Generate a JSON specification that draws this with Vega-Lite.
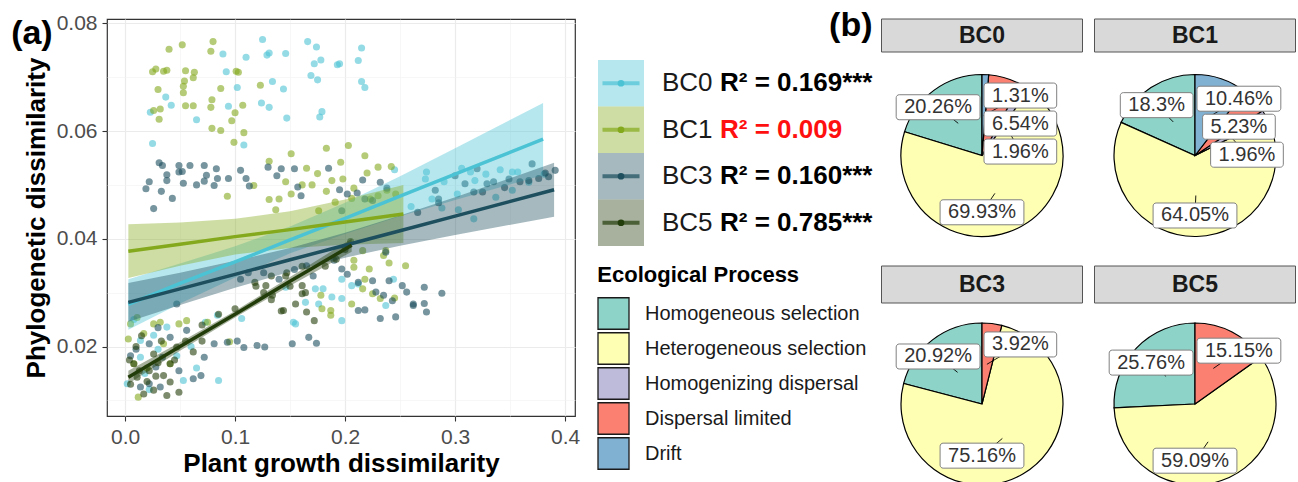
{
  "$schema": "https://vega.github.io/schema/vega-lite/v6.json",
  "padding": {"left": 10, "top": 9, "right": 0, "bottom": 0},
  "config": {
    "font": "Liberation Sans",
    "view": {"stroke": null},
    "axis": {
      "labelFont": "Liberation Sans", "labelFontSize": 21, "labelColor": "#4d4d4d",
      "titleFont": "Liberation Sans", "titleFontSize": 26, "titleFontWeight": "bold", "titleColor": "#000000",
      "domain": false, "tickColor": "#333333", "tickSize": 5, "tickWidth": 1.1,
      "labelFlush": false, "labelOverlap": false, "grid": true
    },
    "title": {"font": "Liberation Sans", "color": "#000000"},
    "text": {"font": "Liberation Sans"}
  },
  "datasets": {
    "r2": [
      {"g": "BC0", "r2": 0.169, "sig": "***"},
      {"g": "BC1", "r2": 0.009, "sig": ""},
      {"g": "BC3", "r2": 0.160, "sig": "***"},
      {"g": "BC5", "r2": 0.785, "sig": "***"}
    ],
    "pie": [
      {"g": "BC0", "process": "Homogeneous selection", "value": 20.26},
      {"g": "BC0", "process": "Heterogeneous selection", "value": 69.93},
      {"g": "BC0", "process": "Homogenizing dispersal", "value": 1.96},
      {"g": "BC0", "process": "Dispersal limited", "value": 6.54},
      {"g": "BC0", "process": "Drift", "value": 1.31},
      {"g": "BC1", "process": "Homogeneous selection", "value": 18.3},
      {"g": "BC1", "process": "Heterogeneous selection", "value": 64.05},
      {"g": "BC1", "process": "Homogenizing dispersal", "value": 1.96},
      {"g": "BC1", "process": "Dispersal limited", "value": 5.23},
      {"g": "BC1", "process": "Drift", "value": 10.46},
      {"g": "BC3", "process": "Homogeneous selection", "value": 20.92},
      {"g": "BC3", "process": "Heterogeneous selection", "value": 75.16},
      {"g": "BC3", "process": "Dispersal limited", "value": 3.92},
      {"g": "BC5", "process": "Homogeneous selection", "value": 25.76},
      {"g": "BC5", "process": "Heterogeneous selection", "value": 59.09},
      {"g": "BC5", "process": "Dispersal limited", "value": 15.15}
    ],
    "fit": [
      {"g": "BC0", "x": 0.003, "fit": 0.0278, "lo": 0.0231, "hi": 0.0325},
      {"g": "BC0", "x": 0.05, "fit": 0.0317, "lo": 0.0280, "hi": 0.0354},
      {"g": "BC0", "x": 0.10, "fit": 0.0357, "lo": 0.0328, "hi": 0.0386},
      {"g": "BC0", "x": 0.15, "fit": 0.0398, "lo": 0.0373, "hi": 0.0423},
      {"g": "BC0", "x": 0.20, "fit": 0.0438, "lo": 0.0409, "hi": 0.0467},
      {"g": "BC0", "x": 0.25, "fit": 0.0479, "lo": 0.0442, "hi": 0.0516},
      {"g": "BC0", "x": 0.30, "fit": 0.0520, "lo": 0.0472, "hi": 0.0568},
      {"g": "BC0", "x": 0.38, "fit": 0.0585, "lo": 0.0518, "hi": 0.0652},
      {"g": "BC1", "x": 0.003, "fit": 0.0377, "lo": 0.0327, "hi": 0.0427},
      {"g": "BC1", "x": 0.05, "fit": 0.0390, "lo": 0.0350, "hi": 0.0430},
      {"g": "BC1", "x": 0.10, "fit": 0.0404, "lo": 0.0371, "hi": 0.0437},
      {"g": "BC1", "x": 0.15, "fit": 0.0417, "lo": 0.0383, "hi": 0.0451},
      {"g": "BC1", "x": 0.20, "fit": 0.0431, "lo": 0.0389, "hi": 0.0473},
      {"g": "BC1", "x": 0.253, "fit": 0.0446, "lo": 0.0392, "hi": 0.0500},
      {"g": "BC3", "x": 0.003, "fit": 0.0282, "lo": 0.0246, "hi": 0.0318},
      {"g": "BC3", "x": 0.05, "fit": 0.0307, "lo": 0.0277, "hi": 0.0337},
      {"g": "BC3", "x": 0.10, "fit": 0.0334, "lo": 0.0309, "hi": 0.0359},
      {"g": "BC3", "x": 0.15, "fit": 0.0361, "lo": 0.0339, "hi": 0.0383},
      {"g": "BC3", "x": 0.20, "fit": 0.0388, "lo": 0.0365, "hi": 0.0411},
      {"g": "BC3", "x": 0.25, "fit": 0.0415, "lo": 0.0387, "hi": 0.0443},
      {"g": "BC3", "x": 0.30, "fit": 0.0442, "lo": 0.0407, "hi": 0.0477},
      {"g": "BC3", "x": 0.39, "fit": 0.0491, "lo": 0.0441, "hi": 0.0541},
      {"g": "BC5", "x": 0.003, "fit": 0.0143, "lo": 0.0131, "hi": 0.0155},
      {"g": "BC5", "x": 0.05, "fit": 0.0200, "lo": 0.0192, "hi": 0.0208},
      {"g": "BC5", "x": 0.10, "fit": 0.0260, "lo": 0.0254, "hi": 0.0266},
      {"g": "BC5", "x": 0.15, "fit": 0.0321, "lo": 0.0313, "hi": 0.0329},
      {"g": "BC5", "x": 0.206, "fit": 0.0388, "lo": 0.0376, "hi": 0.0400}
    ],
    "pts": [
      {"g":"BC0","x":0.125,"y":0.0770},{"g":"BC0","x":0.129,"y":0.0741},{"g":"BC0","x":0.131,"y":0.0745},{"g":"BC0","x":0.146,"y":0.0744},
      {"g":"BC0","x":0.166,"y":0.0766},{"g":"BC0","x":0.174,"y":0.0756},{"g":"BC0","x":0.178,"y":0.0732},{"g":"BC0","x":0.172,"y":0.0725},
      {"g":"BC0","x":0.193,"y":0.0723},{"g":"BC0","x":0.195,"y":0.0725},{"g":"BC0","x":0.212,"y":0.0731},{"g":"BC0","x":0.215,"y":0.0754},
      {"g":"BC0","x":0.169,"y":0.0703},{"g":"BC0","x":0.175,"y":0.0695},{"g":"BC0","x":0.215,"y":0.0692},{"g":"BC0","x":0.218,"y":0.0681},
      {"g":"BC0","x":0.134,"y":0.0692},{"g":"BC0","x":0.144,"y":0.0678},{"g":"BC0","x":0.124,"y":0.0652},{"g":"BC0","x":0.131,"y":0.0644},
      {"g":"BC0","x":0.147,"y":0.0624},{"g":"BC0","x":0.177,"y":0.0626},{"g":"BC0","x":0.179,"y":0.0636},{"g":"BC0","x":0.089,"y":0.0743},
      {"g":"BC0","x":0.110,"y":0.0737},{"g":"BC0","x":0.092,"y":0.0710},{"g":"BC0","x":0.102,"y":0.0681},{"g":"BC0","x":0.037,"y":0.0663},
      {"g":"BC0","x":0.042,"y":0.0648},{"g":"BC0","x":0.065,"y":0.0621},{"g":"BC0","x":0.094,"y":0.0646},{"g":"BC0","x":0.108,"y":0.0574},
      {"g":"BC0","x":0.025,"y":0.0577},{"g":"BC0","x":0.023,"y":0.0635},
      {"g":"BC0","x":0.245,"y":0.0528},{"g":"BC0","x":0.260,"y":0.0460},{"g":"BC0","x":0.274,"y":0.0524},{"g":"BC0","x":0.273,"y":0.0511},
      {"g":"BC0","x":0.306,"y":0.0531},{"g":"BC0","x":0.314,"y":0.0524},{"g":"BC0","x":0.328,"y":0.0520},{"g":"BC0","x":0.341,"y":0.0528},
      {"g":"BC0","x":0.352,"y":0.0524},{"g":"BC0","x":0.357,"y":0.0524},{"g":"BC0","x":0.318,"y":0.0508},{"g":"BC0","x":0.290,"y":0.0506},
      {"g":"BC0","x":0.279,"y":0.0474},{"g":"BC0","x":0.302,"y":0.0483},{"g":"BC0","x":0.352,"y":0.0490},{"g":"BC0","x":0.367,"y":0.0505},
      {"g":"BC0","x":0.381,"y":0.0520},{"g":"BC0","x":0.317,"y":0.0437},{"g":"BC0","x":0.303,"y":0.0454},{"g":"BC0","x":0.288,"y":0.0457},
      {"g":"BC0","x":0.337,"y":0.0477},
      {"g":"BC0","x":0.153,"y":0.0245},{"g":"BC0","x":0.155,"y":0.0242},{"g":"BC0","x":0.197,"y":0.0248},{"g":"BC0","x":0.164,"y":0.0282},
      {"g":"BC0","x":0.176,"y":0.0279},{"g":"BC0","x":0.180,"y":0.0307},{"g":"BC0","x":0.188,"y":0.0292},{"g":"BC0","x":0.197,"y":0.0289},
      {"g":"BC0","x":0.206,"y":0.0313},{"g":"BC0","x":0.212,"y":0.0316},{"g":"BC0","x":0.197,"y":0.0325},{"g":"BC0","x":0.237,"y":0.0276},
      {"g":"BC0","x":0.244,"y":0.0325},{"g":"BC0","x":0.173,"y":0.0307},{"g":"BC0","x":0.146,"y":0.0310},
      {"g":"BC0","x":0.002,"y":0.0131},{"g":"BC0","x":0.014,"y":0.0211},{"g":"BC0","x":0.026,"y":0.0221},{"g":"BC0","x":0.038,"y":0.0236},
      {"g":"BC0","x":0.053,"y":0.0137},{"g":"BC0","x":0.085,"y":0.0137},{"g":"BC0","x":0.014,"y":0.0180},{"g":"BC0","x":0.047,"y":0.0183},
      {"g":"BC0","x":0.073,"y":0.0245},{"g":"BC0","x":0.084,"y":0.0258},{"g":"BC0","x":0.106,"y":0.0252},{"g":"BC0","x":0.018,"y":0.0150},
      {"g":"BC0","x":0.030,"y":0.0195},{"g":"BC0","x":0.060,"y":0.0200},{"g":"BC0","x":0.065,"y":0.0160},{"g":"BC0","x":0.008,"y":0.0250},
      {"g":"BC0","x":0.022,"y":0.0120},
      {"g":"BC1","x":0.040,"y":0.0752},{"g":"BC1","x":0.052,"y":0.0760},{"g":"BC1","x":0.080,"y":0.0766},{"g":"BC1","x":0.078,"y":0.0748},
      {"g":"BC1","x":0.025,"y":0.0710},{"g":"BC1","x":0.028,"y":0.0715},{"g":"BC1","x":0.035,"y":0.0711},{"g":"BC1","x":0.038,"y":0.0713},
      {"g":"BC1","x":0.055,"y":0.0712},{"g":"BC1","x":0.063,"y":0.0709},{"g":"BC1","x":0.062,"y":0.0699},{"g":"BC1","x":0.054,"y":0.0693},
      {"g":"BC1","x":0.053,"y":0.0683},{"g":"BC1","x":0.030,"y":0.0677},{"g":"BC1","x":0.053,"y":0.0671},{"g":"BC1","x":0.087,"y":0.0679},
      {"g":"BC1","x":0.103,"y":0.0709},{"g":"BC1","x":0.079,"y":0.0658},{"g":"BC1","x":0.026,"y":0.0638},{"g":"BC1","x":0.032,"y":0.0641},
      {"g":"BC1","x":0.031,"y":0.0622},{"g":"BC1","x":0.055,"y":0.0647},{"g":"BC1","x":0.062,"y":0.0647},{"g":"BC1","x":0.078,"y":0.0644},
      {"g":"BC1","x":0.100,"y":0.0634},{"g":"BC1","x":0.097,"y":0.0619},{"g":"BC1","x":0.107,"y":0.0648},{"g":"BC1","x":0.079,"y":0.0605},
      {"g":"BC1","x":0.087,"y":0.0601},{"g":"BC1","x":0.108,"y":0.0597},{"g":"BC1","x":0.099,"y":0.0579},{"g":"BC1","x":0.123,"y":0.0685},
      {"g":"BC1","x":0.101,"y":0.0711},
      {"g":"BC1","x":0.131,"y":0.0544},{"g":"BC1","x":0.151,"y":0.0558},{"g":"BC1","x":0.183,"y":0.0568},{"g":"BC1","x":0.203,"y":0.0573},
      {"g":"BC1","x":0.218,"y":0.0554},{"g":"BC1","x":0.196,"y":0.0542},{"g":"BC1","x":0.165,"y":0.0531},{"g":"BC1","x":0.175,"y":0.0521},
      {"g":"BC1","x":0.188,"y":0.0508},{"g":"BC1","x":0.198,"y":0.0511},{"g":"BC1","x":0.208,"y":0.0494},{"g":"BC1","x":0.220,"y":0.0522},
      {"g":"BC1","x":0.230,"y":0.0533},{"g":"BC1","x":0.242,"y":0.0534},{"g":"BC1","x":0.146,"y":0.0506},{"g":"BC1","x":0.170,"y":0.0500},
      {"g":"BC1","x":0.161,"y":0.0500},{"g":"BC1","x":0.151,"y":0.0483},{"g":"BC1","x":0.131,"y":0.0473},{"g":"BC1","x":0.140,"y":0.0474},
      {"g":"BC1","x":0.137,"y":0.0454},{"g":"BC1","x":0.176,"y":0.0452},{"g":"BC1","x":0.183,"y":0.0488},{"g":"BC1","x":0.191,"y":0.0468},
      {"g":"BC1","x":0.117,"y":0.0499},{"g":"BC1","x":0.223,"y":0.0474},{"g":"BC1","x":0.230,"y":0.0480},{"g":"BC1","x":0.238,"y":0.0490},
      {"g":"BC1","x":0.246,"y":0.0483},{"g":"BC1","x":0.206,"y":0.0475},{"g":"BC1","x":0.093,"y":0.0479},
      {"g":"BC1","x":0.178,"y":0.0295},{"g":"BC1","x":0.187,"y":0.0258},{"g":"BC1","x":0.187,"y":0.0267},{"g":"BC1","x":0.179,"y":0.0270},
      {"g":"BC1","x":0.206,"y":0.0279},{"g":"BC1","x":0.216,"y":0.0307},{"g":"BC1","x":0.218,"y":0.0325},{"g":"BC1","x":0.225,"y":0.0298},
      {"g":"BC1","x":0.232,"y":0.0289},{"g":"BC1","x":0.235,"y":0.0369},{"g":"BC1","x":0.208,"y":0.0360},{"g":"BC1","x":0.222,"y":0.0344},
      {"g":"BC1","x":0.216,"y":0.0378},{"g":"BC1","x":0.208,"y":0.0347},{"g":"BC1","x":0.237,"y":0.0378},{"g":"BC1","x":0.255,"y":0.0350},
      {"g":"BC1","x":0.245,"y":0.0290},{"g":"BC1","x":0.240,"y":0.0355},
      {"g":"BC1","x":0.003,"y":0.0214},{"g":"BC1","x":0.005,"y":0.0242},{"g":"BC1","x":0.011,"y":0.0254},{"g":"BC1","x":0.026,"y":0.0242},
      {"g":"BC1","x":0.032,"y":0.0245},{"g":"BC1","x":0.049,"y":0.0242},{"g":"BC1","x":0.056,"y":0.0248},{"g":"BC1","x":0.035,"y":0.0205},
      {"g":"BC1","x":0.012,"y":0.0106},{"g":"BC1","x":0.017,"y":0.0224},{"g":"BC1","x":0.041,"y":0.0168},{"g":"BC1","x":0.020,"y":0.0160},
      {"g":"BC1","x":0.075,"y":0.0245},{"g":"BC1","x":0.095,"y":0.0209},{"g":"BC1","x":0.008,"y":0.0168},
      {"g":"BC3","x":0.031,"y":0.0541},{"g":"BC3","x":0.034,"y":0.0536},{"g":"BC3","x":0.022,"y":0.0506},{"g":"BC3","x":0.019,"y":0.0493},
      {"g":"BC3","x":0.033,"y":0.0488},{"g":"BC3","x":0.043,"y":0.0475},{"g":"BC3","x":0.038,"y":0.0508},{"g":"BC3","x":0.049,"y":0.0524},
      {"g":"BC3","x":0.049,"y":0.0536},{"g":"BC3","x":0.052,"y":0.0525},{"g":"BC3","x":0.059,"y":0.0536},{"g":"BC3","x":0.065,"y":0.0500},
      {"g":"BC3","x":0.072,"y":0.0536},{"g":"BC3","x":0.074,"y":0.0518},{"g":"BC3","x":0.083,"y":0.0530},{"g":"BC3","x":0.084,"y":0.0512},
      {"g":"BC3","x":0.094,"y":0.0512},{"g":"BC3","x":0.105,"y":0.0527},{"g":"BC3","x":0.110,"y":0.0512},{"g":"BC3","x":0.113,"y":0.0498},
      {"g":"BC3","x":0.038,"y":0.0519},{"g":"BC3","x":0.026,"y":0.0456},{"g":"BC3","x":0.053,"y":0.0503},{"g":"BC3","x":0.081,"y":0.0499},
      {"g":"BC3","x":0.072,"y":0.0507},
      {"g":"BC3","x":0.130,"y":0.0533},{"g":"BC3","x":0.138,"y":0.0517},{"g":"BC3","x":0.142,"y":0.0530},{"g":"BC3","x":0.154,"y":0.0530},
      {"g":"BC3","x":0.185,"y":0.0531},{"g":"BC3","x":0.157,"y":0.0496},{"g":"BC3","x":0.160,"y":0.0480},{"g":"BC3","x":0.195,"y":0.0491},
      {"g":"BC3","x":0.202,"y":0.0483},{"g":"BC3","x":0.211,"y":0.0485},{"g":"BC3","x":0.216,"y":0.0509},{"g":"BC3","x":0.232,"y":0.0505},
      {"g":"BC3","x":0.238,"y":0.0494},{"g":"BC3","x":0.218,"y":0.0474},{"g":"BC3","x":0.197,"y":0.0452},{"g":"BC3","x":0.225,"y":0.0471},
      {"g":"BC3","x":0.282,"y":0.0490},{"g":"BC3","x":0.285,"y":0.0474},{"g":"BC3","x":0.309,"y":0.0502},{"g":"BC3","x":0.317,"y":0.0487},
      {"g":"BC3","x":0.325,"y":0.0487},{"g":"BC3","x":0.329,"y":0.0502},{"g":"BC3","x":0.335,"y":0.0506},{"g":"BC3","x":0.349,"y":0.0511},
      {"g":"BC3","x":0.359,"y":0.0506},{"g":"BC3","x":0.370,"y":0.0539},{"g":"BC3","x":0.376,"y":0.0512},{"g":"BC3","x":0.382,"y":0.0522},
      {"g":"BC3","x":0.391,"y":0.0527},{"g":"BC3","x":0.367,"y":0.0508},{"g":"BC3","x":0.300,"y":0.0517},{"g":"BC3","x":0.285,"y":0.0467},
      {"g":"BC3","x":0.266,"y":0.0449},{"g":"BC3","x":0.320,"y":0.0530},{"g":"BC3","x":0.345,"y":0.0495},{"g":"BC3","x":0.385,"y":0.0515},
      {"g":"BC3","x":0.197,"y":0.0344},{"g":"BC3","x":0.202,"y":0.0334},{"g":"BC3","x":0.212,"y":0.0319},{"g":"BC3","x":0.228,"y":0.0301},
      {"g":"BC3","x":0.235,"y":0.0295},{"g":"BC3","x":0.243,"y":0.0285},{"g":"BC3","x":0.252,"y":0.0313},{"g":"BC3","x":0.256,"y":0.0301},
      {"g":"BC3","x":0.262,"y":0.0279},{"g":"BC3","x":0.212,"y":0.0267},{"g":"BC3","x":0.218,"y":0.0268},{"g":"BC3","x":0.232,"y":0.0252},
      {"g":"BC3","x":0.246,"y":0.0255},{"g":"BC3","x":0.167,"y":0.0217},{"g":"BC3","x":0.174,"y":0.0206},{"g":"BC3","x":0.152,"y":0.0205},
      {"g":"BC3","x":0.120,"y":0.0202},{"g":"BC3","x":0.127,"y":0.0199},{"g":"BC3","x":0.237,"y":0.0375},{"g":"BC3","x":0.240,"y":0.0322},
      {"g":"BC3","x":0.225,"y":0.0322},
      {"g":"BC3","x":0.272,"y":0.0310},{"g":"BC3","x":0.288,"y":0.0299},{"g":"BC3","x":0.262,"y":0.0276},{"g":"BC3","x":0.272,"y":0.0280},
      {"g":"BC3","x":0.274,"y":0.0264},
      {"g":"BC3","x":0.126,"y":0.0337},{"g":"BC3","x":0.140,"y":0.0325},{"g":"BC3","x":0.154,"y":0.0343},{"g":"BC3","x":0.171,"y":0.0331},
      {"g":"BC3","x":0.105,"y":0.0325},{"g":"BC3","x":0.112,"y":0.0337},{"g":"BC3","x":0.165,"y":0.0350},{"g":"BC3","x":0.190,"y":0.0360},
      {"g":"BC3","x":0.005,"y":0.0183},{"g":"BC3","x":0.014,"y":0.0125},{"g":"BC3","x":0.022,"y":0.0131},{"g":"BC3","x":0.032,"y":0.0125},
      {"g":"BC3","x":0.041,"y":0.0217},{"g":"BC3","x":0.022,"y":0.0205},{"g":"BC3","x":0.034,"y":0.0180},{"g":"BC3","x":0.049,"y":0.0155},
      {"g":"BC3","x":0.062,"y":0.0140},{"g":"BC3","x":0.081,"y":0.0205},{"g":"BC3","x":0.093,"y":0.0208},{"g":"BC3","x":0.102,"y":0.0210},
      {"g":"BC3","x":0.108,"y":0.0198},{"g":"BC3","x":0.047,"y":0.0279},{"g":"BC3","x":0.069,"y":0.0146},{"g":"BC3","x":0.028,"y":0.0162},
      {"g":"BC3","x":0.056,"y":0.0230},{"g":"BC3","x":0.030,"y":0.0235},{"g":"BC3","x":0.010,"y":0.0195},{"g":"BC3","x":0.072,"y":0.0180},
      {"g":"BC5","x":0.004,"y":0.0175},{"g":"BC5","x":0.008,"y":0.0168},{"g":"BC5","x":0.011,"y":0.0143},{"g":"BC5","x":0.013,"y":0.0155},
      {"g":"BC5","x":0.017,"y":0.0112},{"g":"BC5","x":0.020,"y":0.0135},{"g":"BC5","x":0.022,"y":0.0155},{"g":"BC5","x":0.026,"y":0.0186},
      {"g":"BC5","x":0.026,"y":0.0119},{"g":"BC5","x":0.028,"y":0.0145},{"g":"BC5","x":0.030,"y":0.0170},{"g":"BC5","x":0.035,"y":0.0146},
      {"g":"BC5","x":0.038,"y":0.0109},{"g":"BC5","x":0.041,"y":0.0134},{"g":"BC5","x":0.041,"y":0.0168},{"g":"BC5","x":0.045,"y":0.0175},
      {"g":"BC5","x":0.049,"y":0.0115},{"g":"BC5","x":0.047,"y":0.0199},{"g":"BC5","x":0.055,"y":0.0210},{"g":"BC5","x":0.062,"y":0.0190},
      {"g":"BC5","x":0.070,"y":0.0210},{"g":"BC5","x":0.070,"y":0.0240},{"g":"BC5","x":0.085,"y":0.0260},{"g":"BC5","x":0.100,"y":0.0270},
      {"g":"BC5","x":0.118,"y":0.0319},{"g":"BC5","x":0.128,"y":0.0313},{"g":"BC5","x":0.134,"y":0.0295},{"g":"BC5","x":0.144,"y":0.0267},
      {"g":"BC5","x":0.146,"y":0.0331},{"g":"BC5","x":0.155,"y":0.0279},{"g":"BC5","x":0.161,"y":0.0313},{"g":"BC5","x":0.161,"y":0.0298},
      {"g":"BC5","x":0.165,"y":0.0264},{"g":"BC5","x":0.172,"y":0.0248},{"g":"BC5","x":0.119,"y":0.0312},{"g":"BC5","x":0.126,"y":0.0300},
      {"g":"BC5","x":0.133,"y":0.0287},{"g":"BC5","x":0.142,"y":0.0266},{"g":"BC5","x":0.150,"y":0.0312},{"g":"BC5","x":0.164,"y":0.0300},
      {"g":"BC5","x":0.182,"y":0.0349},{"g":"BC5","x":0.192,"y":0.0362},{"g":"BC5","x":0.200,"y":0.0380},{"g":"BC5","x":0.205,"y":0.0395},
      {"g":"BC5","x":0.133,"y":0.0331},{"g":"BC5","x":0.147,"y":0.0337},{"g":"BC5","x":0.161,"y":0.0349},{"g":"BC5","x":0.010,"y":0.0200},
      {"g":"BC5","x":0.015,"y":0.0220},{"g":"BC5","x":0.005,"y":0.0130},{"g":"BC5","x":0.033,"y":0.0210}
    ]
  },
  "spacing": 16,
  "hconcat": [
    {
      "width": 468,
      "height": 397,
      "view": {"stroke": "#333333", "strokeWidth": 1.2},
      "title": {"text": "(a)", "anchor": "start", "frame": "bounds", "offset": -39, "dx": -12, "fontSize": 34, "fontWeight": "bold"},
      "layer": [
        {
          "data": {"name": "pts"},
          "mark": {"type": "circle", "size": 50, "opacity": 0.6},
          "encoding": {
            "x": {"field": "x", "type": "quantitative",
              "scale": {"domain": [-0.0164, 0.409], "nice": false, "zero": false},
              "axis": {"title": "Plant growth dissimilarity",
                "values": [0, 0.05, 0.1, 0.15, 0.2, 0.25, 0.3, 0.35, 0.4],
                "labelExpr": "round(datum.value*100) % 10 == 0 ? format(datum.value, '.1f') : ''",
                "tickOpacity": {"condition": {"test": "round(datum.value*100) % 10 != 0", "value": 0}, "value": 1},
                "gridWidth": {"condition": {"test": "round(datum.value*100) % 10 != 0", "value": 0.6}, "value": 1.2},
                "gridColor": {"condition": {"test": "round(datum.value*100) % 10 != 0", "value": "#f2f2f2"}, "value": "#ebebeb"},
                "labelPadding": 5, "titlePadding": 3}},
            "y": {"field": "y", "type": "quantitative",
              "scale": {"domain": [0.0071, 0.0808], "nice": false, "zero": false},
              "axis": {"title": "Phylogenetic dissimilarity",
                "values": [0.01, 0.02, 0.03, 0.04, 0.05, 0.06, 0.07, 0.08],
                "labelExpr": "round(datum.value*1000) % 20 == 0 ? format(datum.value, '.2f') : ''",
                "tickOpacity": {"condition": {"test": "round(datum.value*1000) % 20 != 0", "value": 0}, "value": 1},
                "gridWidth": {"condition": {"test": "round(datum.value*1000) % 20 != 0", "value": 0.6}, "value": 1.2},
                "gridColor": {"condition": {"test": "round(datum.value*1000) % 20 != 0", "value": "#f2f2f2"}, "value": "#ebebeb"},
                "labelPadding": 5, "titlePadding": 7}},
            "color": {"field": "g", "type": "nominal",
              "scale": {"domain": ["BC0", "BC1", "BC3", "BC5"], "range": ["#4cc3d4", "#84a91c", "#1d4f5e", "#233d0a"]},
              "legend": null}
          }
        },
        {
          "data": {"name": "fit"},
          "mark": {"type": "area", "opacity": 0.4},
          "encoding": {
            "x": {"field": "x", "type": "quantitative"},
            "y": {"field": "lo", "type": "quantitative"},
            "y2": {"field": "hi"},
            "color": {"field": "g", "type": "nominal"}
          }
        },
        {
          "data": {"name": "fit"},
          "mark": {"type": "line", "strokeWidth": 3.5},
          "encoding": {
            "x": {"field": "x", "type": "quantitative"},
            "y": {"field": "fit", "type": "quantitative"},
            "color": {"field": "g", "type": "nominal"}
          }
        }
      ]
    },
    {
      "spacing": 7.5,
      "hconcat": [
        {
          "spacing": 18,
          "vconcat": [
            {
              "data": {"name": "r2"},
              "width": 46,
              "height": 227,
              "title": {"text": "(b)", "anchor": "end", "frame": "bounds", "offset": -24, "fontSize": 34, "fontWeight": "bold"},
              "transform": [{"calculate": "'R² = ' + format(datum.r2, '.3f') + datum.sig", "as": "lab"}],
              "encoding": {
                "y": {"field": "g", "type": "nominal", "scale": {"domain": ["BC0", "BC1", "BC3", "BC5"], "paddingInner": 0, "paddingOuter": 0.441, "align": 1}, "axis": null}
              },
              "layer": [
                {"mark": {"type": "rect", "fillOpacity": 0.4},
                 "encoding": {"color": {"field": "g", "type": "nominal", "scale": {"domain": ["BC0", "BC1", "BC3", "BC5"], "range": ["#4cc3d4", "#84a91c", "#1d4f5e", "#233d0a"]}, "legend": null}}},
                {"mark": {"type": "tick", "orient": "horizontal", "thickness": 4},
                 "encoding": {"size": {"value": 37}, "color": {"field": "g", "type": "nominal", "legend": null}}},
                {"mark": {"type": "circle", "size": 45, "opacity": 1},
                 "encoding": {"color": {"field": "g", "type": "nominal", "legend": null}}},
                {"mark": {"type": "text", "align": "left", "baseline": "middle", "dx": 41, "fontSize": 26, "color": "#1a1a1a"},
                 "encoding": {"text": {"field": "g"}}},
                {"mark": {"type": "text", "align": "left", "baseline": "middle", "dx": 99, "fontSize": 26, "fontWeight": "bold"},
                 "encoding": {"text": {"field": "lab"},
                   "color": {"condition": {"test": "datum.sig == ''", "value": "#ff1010"}, "value": "#000000"}}}
              ]
            },
            {
              "data": {"name": "pie"},
              "width": 31,
              "height": 175,
              "title": {"text": "Ecological Process", "anchor": "start", "frame": "bounds", "offset": 9, "fontSize": 22, "fontWeight": "bold"},
              "transform": [{"aggregate": [{"op": "count", "as": "n"}], "groupby": ["process"]}],
              "encoding": {
                "y": {"field": "process", "type": "nominal",
                  "scale": {"domain": ["Homogeneous selection", "Heterogeneous selection", "Homogenizing dispersal", "Dispersal limited", "Drift"], "paddingInner": 0.1, "paddingOuter": 0.05},
                  "axis": null}
              },
              "layer": [
                {"mark": {"type": "rect", "stroke": "#1a1a1a", "strokeWidth": 1.3},
                 "encoding": {"fill": {"field": "process", "type": "nominal",
                   "scale": {"domain": ["Homogeneous selection", "Heterogeneous selection", "Homogenizing dispersal", "Dispersal limited", "Drift"], "range": ["#8dd3c7", "#ffffb3", "#bebada", "#fb8072", "#80b1d3"]},
                   "legend": null}}},
                {"mark": {"type": "text", "align": "left", "baseline": "middle", "dx": 31.5, "fontSize": 20, "color": "#1a1a1a"},
                 "encoding": {"text": {"field": "process"}}}
              ]
            }
          ]
        },
        {
          "spacing": 7,
          "vconcat": [
            {
              "spacing": 10,
              "hconcat": [
                {
                  "spacing": 0,
                  "vconcat": [
                    {
                      "data": {"name": "r2"}, "transform": [{"filter": "datum.g == 'BC0'"}],
                      "width": 201, "height": 33,
                      "layer": [
                        {"mark": {"type": "rect", "fill": "#d9d9d9", "stroke": "#555555", "strokeWidth": 1}, "encoding": {}},
                        {"mark": {"type": "text", "fontSize": 23, "fontWeight": "bold", "color": "#1a1a1a"}, "encoding": {"text": {"field": "g"}}}
                      ]
                    },
                    {
                      "data": {"name": "pie"},
                      "width": 201, "height": 205,
                      "transform": [
                        {"filter": "datum.g == 'BC0'"},
                        {"calculate": "indexof(['Drift','Dispersal limited','Homogenizing dispersal','Heterogeneous selection','Homogeneous selection'], datum.process)", "as": "ord"},
                        {"window": [{"op": "sum", "field": "value", "as": "cum"}], "sort": [{"field": "ord", "order": "ascending"}], "frame": [null, 0]},
                        {"calculate": "(datum.cum - datum.value / 2) / 100 * 2 * PI", "as": "phi"},
                        {"calculate": "40 * sin(datum.phi)", "as": "px"},
                        {"calculate": "40 * cos(datum.phi)", "as": "py"},
                        {"calculate": "60 * cos(datum.phi)", "as": "ly0"},
                        {"calculate": "sin(datum.phi) >= 0 ? 1 : -1", "as": "side"},
                        {"calculate": "datum.value + '%'", "as": "label"},
                        {"calculate": "((length(datum.label) - 2) * 0.556 + 1.167) * 10 + 8", "as": "hw"},
                        {"window": [{"op": "rank", "as": "rk"}], "groupby": ["side"], "sort": [{"field": "ly0", "order": "descending"}]},
                        {"joinaggregate": [{"op": "max", "field": "ly0", "as": "ytop"}], "groupby": ["side"]},
                        {"calculate": "min(datum.ly0, datum.ytop - 28 * (datum.rk - 1))", "as": "ly"},
                        {"calculate": "datum.ly0 < -30 ? 0 : (datum.side > 0 ? max(60 * sin(datum.phi), datum.hw + 2) : min(60 * sin(datum.phi), -datum.hw - 2))", "as": "lx"},
                        {"calculate": "datum.lx - datum.hw", "as": "bx1"},
                        {"calculate": "datum.lx + datum.hw", "as": "bx2"},
                        {"calculate": "datum.ly - 12.5", "as": "by1"},
                        {"calculate": "datum.ly + 12.5", "as": "by2"}
                      ],
                      "layer": [
                        {"mark": {"type": "arc", "outerRadius": 81, "stroke": "#000000", "strokeWidth": 1.2},
                         "encoding": {
                           "theta": {"field": "value", "type": "quantitative", "stack": true},
                           "order": {"field": "ord", "type": "quantitative"},
                           "fill": {"field": "process", "type": "nominal", "scale": {"domain": ["Homogeneous selection", "Heterogeneous selection", "Homogenizing dispersal", "Dispersal limited", "Drift"], "range": ["#8dd3c7", "#ffffb3", "#bebada", "#fb8072", "#80b1d3"]}, "legend": null},
                           "x": {"datum": 0, "type": "quantitative", "scale": {"domain": [-100.5, 100.5], "nice": false, "zero": false}, "axis": null},
                           "y": {"datum": 0, "type": "quantitative", "scale": {"domain": [-102.5, 102.5], "nice": false, "zero": false}, "axis": null}}},
                        {"mark": {"type": "rule", "stroke": "#000000", "strokeWidth": 0.9},
                         "encoding": {"x": {"field": "px", "type": "quantitative", "axis": null}, "y": {"field": "py", "type": "quantitative", "axis": null}, "x2": {"field": "lx"}, "y2": {"field": "ly"}}},
                        {"mark": {"type": "rect", "fill": "#ffffff", "stroke": "#808080", "strokeWidth": 1, "cornerRadius": 3},
                         "encoding": {"x": {"field": "bx1", "type": "quantitative", "axis": null}, "x2": {"field": "bx2"}, "y": {"field": "by1", "type": "quantitative", "axis": null}, "y2": {"field": "by2"}}},
                        {"mark": {"type": "text", "fontSize": 20, "color": "#333333"},
                         "encoding": {"x": {"field": "lx", "type": "quantitative", "axis": null}, "y": {"field": "ly", "type": "quantitative", "axis": null}, "text": {"field": "label"}}}
                      ]
                    }
                  ]
                },
                {
                  "spacing": 0,
                  "vconcat": [
                    {
                      "data": {"name": "r2"}, "transform": [{"filter": "datum.g == 'BC1'"}],
                      "width": 201, "height": 33,
                      "layer": [
                        {"mark": {"type": "rect", "fill": "#d9d9d9", "stroke": "#555555", "strokeWidth": 1}, "encoding": {}},
                        {"mark": {"type": "text", "fontSize": 23, "fontWeight": "bold", "color": "#1a1a1a"}, "encoding": {"text": {"field": "g"}}}
                      ]
                    },
                    {
                      "data": {"name": "pie"},
                      "width": 201, "height": 205,
                      "transform": [
                        {"filter": "datum.g == 'BC1'"},
                        {"calculate": "indexof(['Drift','Dispersal limited','Homogenizing dispersal','Heterogeneous selection','Homogeneous selection'], datum.process)", "as": "ord"},
                        {"window": [{"op": "sum", "field": "value", "as": "cum"}], "sort": [{"field": "ord", "order": "ascending"}], "frame": [null, 0]},
                        {"calculate": "(datum.cum - datum.value / 2) / 100 * 2 * PI", "as": "phi"},
                        {"calculate": "40 * sin(datum.phi)", "as": "px"},
                        {"calculate": "40 * cos(datum.phi)", "as": "py"},
                        {"calculate": "60 * cos(datum.phi)", "as": "ly0"},
                        {"calculate": "sin(datum.phi) >= 0 ? 1 : -1", "as": "side"},
                        {"calculate": "datum.value + '%'", "as": "label"},
                        {"calculate": "((length(datum.label) - 2) * 0.556 + 1.167) * 10 + 8", "as": "hw"},
                        {"window": [{"op": "rank", "as": "rk"}], "groupby": ["side"], "sort": [{"field": "ly0", "order": "descending"}]},
                        {"joinaggregate": [{"op": "max", "field": "ly0", "as": "ytop"}], "groupby": ["side"]},
                        {"calculate": "min(datum.ly0, datum.ytop - 28 * (datum.rk - 1))", "as": "ly"},
                        {"calculate": "datum.ly0 < -30 ? 0 : (datum.side > 0 ? max(60 * sin(datum.phi), datum.hw + 2) : min(60 * sin(datum.phi), -datum.hw - 2))", "as": "lx"},
                        {"calculate": "datum.lx - datum.hw", "as": "bx1"},
                        {"calculate": "datum.lx + datum.hw", "as": "bx2"},
                        {"calculate": "datum.ly - 12.5", "as": "by1"},
                        {"calculate": "datum.ly + 12.5", "as": "by2"}
                      ],
                      "layer": [
                        {"mark": {"type": "arc", "outerRadius": 81, "stroke": "#000000", "strokeWidth": 1.2},
                         "encoding": {
                           "theta": {"field": "value", "type": "quantitative", "stack": true},
                           "order": {"field": "ord", "type": "quantitative"},
                           "fill": {"field": "process", "type": "nominal", "scale": {"domain": ["Homogeneous selection", "Heterogeneous selection", "Homogenizing dispersal", "Dispersal limited", "Drift"], "range": ["#8dd3c7", "#ffffb3", "#bebada", "#fb8072", "#80b1d3"]}, "legend": null},
                           "x": {"datum": 0, "type": "quantitative", "scale": {"domain": [-100.5, 100.5], "nice": false, "zero": false}, "axis": null},
                           "y": {"datum": 0, "type": "quantitative", "scale": {"domain": [-102.5, 102.5], "nice": false, "zero": false}, "axis": null}}},
                        {"mark": {"type": "rule", "stroke": "#000000", "strokeWidth": 0.9},
                         "encoding": {"x": {"field": "px", "type": "quantitative", "axis": null}, "y": {"field": "py", "type": "quantitative", "axis": null}, "x2": {"field": "lx"}, "y2": {"field": "ly"}}},
                        {"mark": {"type": "rect", "fill": "#ffffff", "stroke": "#808080", "strokeWidth": 1, "cornerRadius": 3},
                         "encoding": {"x": {"field": "bx1", "type": "quantitative", "axis": null}, "x2": {"field": "bx2"}, "y": {"field": "by1", "type": "quantitative", "axis": null}, "y2": {"field": "by2"}}},
                        {"mark": {"type": "text", "fontSize": 20, "color": "#333333"},
                         "encoding": {"x": {"field": "lx", "type": "quantitative", "axis": null}, "y": {"field": "ly", "type": "quantitative", "axis": null}, "text": {"field": "label"}}}
                      ]
                    }
                  ]
                }
              ]
            },
            {
              "spacing": 10,
              "hconcat": [
                {
                  "spacing": 0,
                  "vconcat": [
                    {
                      "data": {"name": "r2"}, "transform": [{"filter": "datum.g == 'BC3'"}],
                      "width": 201, "height": 37,
                      "layer": [
                        {"mark": {"type": "rect", "fill": "#d9d9d9", "stroke": "#555555", "strokeWidth": 1}, "encoding": {}},
                        {"mark": {"type": "text", "fontSize": 23, "fontWeight": "bold", "color": "#1a1a1a"}, "encoding": {"text": {"field": "g"}}}
                      ]
                    },
                    {
                      "data": {"name": "pie"},
                      "width": 201, "height": 180,
                      "transform": [
                        {"filter": "datum.g == 'BC3'"},
                        {"calculate": "indexof(['Drift','Dispersal limited','Homogenizing dispersal','Heterogeneous selection','Homogeneous selection'], datum.process)", "as": "ord"},
                        {"window": [{"op": "sum", "field": "value", "as": "cum"}], "sort": [{"field": "ord", "order": "ascending"}], "frame": [null, 0]},
                        {"calculate": "(datum.cum - datum.value / 2) / 100 * 2 * PI", "as": "phi"},
                        {"calculate": "40 * sin(datum.phi)", "as": "px"},
                        {"calculate": "40 * cos(datum.phi)", "as": "py"},
                        {"calculate": "60 * cos(datum.phi)", "as": "ly0"},
                        {"calculate": "sin(datum.phi) >= 0 ? 1 : -1", "as": "side"},
                        {"calculate": "datum.value + '%'", "as": "label"},
                        {"calculate": "((length(datum.label) - 2) * 0.556 + 1.167) * 10 + 8", "as": "hw"},
                        {"window": [{"op": "rank", "as": "rk"}], "groupby": ["side"], "sort": [{"field": "ly0", "order": "descending"}]},
                        {"joinaggregate": [{"op": "max", "field": "ly0", "as": "ytop"}], "groupby": ["side"]},
                        {"calculate": "min(datum.ly0, datum.ytop - 28 * (datum.rk - 1))", "as": "ly"},
                        {"calculate": "datum.ly0 < -30 ? 0 : (datum.side > 0 ? max(60 * sin(datum.phi), datum.hw + 2) : min(60 * sin(datum.phi), -datum.hw - 2))", "as": "lx"},
                        {"calculate": "datum.lx - datum.hw", "as": "bx1"},
                        {"calculate": "datum.lx + datum.hw", "as": "bx2"},
                        {"calculate": "datum.ly - 12.5", "as": "by1"},
                        {"calculate": "datum.ly + 12.5", "as": "by2"}
                      ],
                      "layer": [
                        {"mark": {"type": "arc", "outerRadius": 81, "stroke": "#000000", "strokeWidth": 1.2},
                         "encoding": {
                           "theta": {"field": "value", "type": "quantitative", "stack": true},
                           "order": {"field": "ord", "type": "quantitative"},
                           "fill": {"field": "process", "type": "nominal", "scale": {"domain": ["Homogeneous selection", "Heterogeneous selection", "Homogenizing dispersal", "Dispersal limited", "Drift"], "range": ["#8dd3c7", "#ffffb3", "#bebada", "#fb8072", "#80b1d3"]}, "legend": null},
                           "x": {"datum": 0, "type": "quantitative", "scale": {"domain": [-100.5, 100.5], "nice": false, "zero": false}, "axis": null},
                           "y": {"datum": 0, "type": "quantitative", "scale": {"domain": [-80, 100], "nice": false, "zero": false}, "axis": null}}},
                        {"mark": {"type": "rule", "stroke": "#000000", "strokeWidth": 0.9},
                         "encoding": {"x": {"field": "px", "type": "quantitative", "axis": null}, "y": {"field": "py", "type": "quantitative", "axis": null}, "x2": {"field": "lx"}, "y2": {"field": "ly"}}},
                        {"mark": {"type": "rect", "fill": "#ffffff", "stroke": "#808080", "strokeWidth": 1, "cornerRadius": 3},
                         "encoding": {"x": {"field": "bx1", "type": "quantitative", "axis": null}, "x2": {"field": "bx2"}, "y": {"field": "by1", "type": "quantitative", "axis": null}, "y2": {"field": "by2"}}},
                        {"mark": {"type": "text", "fontSize": 20, "color": "#333333"},
                         "encoding": {"x": {"field": "lx", "type": "quantitative", "axis": null}, "y": {"field": "ly", "type": "quantitative", "axis": null}, "text": {"field": "label"}}}
                      ]
                    }
                  ]
                },
                {
                  "spacing": 0,
                  "vconcat": [
                    {
                      "data": {"name": "r2"}, "transform": [{"filter": "datum.g == 'BC5'"}],
                      "width": 201, "height": 37,
                      "layer": [
                        {"mark": {"type": "rect", "fill": "#d9d9d9", "stroke": "#555555", "strokeWidth": 1}, "encoding": {}},
                        {"mark": {"type": "text", "fontSize": 23, "fontWeight": "bold", "color": "#1a1a1a"}, "encoding": {"text": {"field": "g"}}}
                      ]
                    },
                    {
                      "data": {"name": "pie"},
                      "width": 201, "height": 180,
                      "transform": [
                        {"filter": "datum.g == 'BC5'"},
                        {"calculate": "indexof(['Drift','Dispersal limited','Homogenizing dispersal','Heterogeneous selection','Homogeneous selection'], datum.process)", "as": "ord"},
                        {"window": [{"op": "sum", "field": "value", "as": "cum"}], "sort": [{"field": "ord", "order": "ascending"}], "frame": [null, 0]},
                        {"calculate": "(datum.cum - datum.value / 2) / 100 * 2 * PI", "as": "phi"},
                        {"calculate": "40 * sin(datum.phi)", "as": "px"},
                        {"calculate": "40 * cos(datum.phi)", "as": "py"},
                        {"calculate": "60 * cos(datum.phi)", "as": "ly0"},
                        {"calculate": "sin(datum.phi) >= 0 ? 1 : -1", "as": "side"},
                        {"calculate": "datum.value + '%'", "as": "label"},
                        {"calculate": "((length(datum.label) - 2) * 0.556 + 1.167) * 10 + 8", "as": "hw"},
                        {"window": [{"op": "rank", "as": "rk"}], "groupby": ["side"], "sort": [{"field": "ly0", "order": "descending"}]},
                        {"joinaggregate": [{"op": "max", "field": "ly0", "as": "ytop"}], "groupby": ["side"]},
                        {"calculate": "min(datum.ly0, datum.ytop - 28 * (datum.rk - 1))", "as": "ly"},
                        {"calculate": "datum.ly0 < -30 ? 0 : (datum.side > 0 ? max(60 * sin(datum.phi), datum.hw + 2) : min(60 * sin(datum.phi), -datum.hw - 2))", "as": "lx"},
                        {"calculate": "datum.lx - datum.hw", "as": "bx1"},
                        {"calculate": "datum.lx + datum.hw", "as": "bx2"},
                        {"calculate": "datum.ly - 12.5", "as": "by1"},
                        {"calculate": "datum.ly + 12.5", "as": "by2"}
                      ],
                      "layer": [
                        {"mark": {"type": "arc", "outerRadius": 81, "stroke": "#000000", "strokeWidth": 1.2},
                         "encoding": {
                           "theta": {"field": "value", "type": "quantitative", "stack": true},
                           "order": {"field": "ord", "type": "quantitative"},
                           "fill": {"field": "process", "type": "nominal", "scale": {"domain": ["Homogeneous selection", "Heterogeneous selection", "Homogenizing dispersal", "Dispersal limited", "Drift"], "range": ["#8dd3c7", "#ffffb3", "#bebada", "#fb8072", "#80b1d3"]}, "legend": null},
                           "x": {"datum": 0, "type": "quantitative", "scale": {"domain": [-100.5, 100.5], "nice": false, "zero": false}, "axis": null},
                           "y": {"datum": 0, "type": "quantitative", "scale": {"domain": [-80, 100], "nice": false, "zero": false}, "axis": null}}},
                        {"mark": {"type": "rule", "stroke": "#000000", "strokeWidth": 0.9},
                         "encoding": {"x": {"field": "px", "type": "quantitative", "axis": null}, "y": {"field": "py", "type": "quantitative", "axis": null}, "x2": {"field": "lx"}, "y2": {"field": "ly"}}},
                        {"mark": {"type": "rect", "fill": "#ffffff", "stroke": "#808080", "strokeWidth": 1, "cornerRadius": 3},
                         "encoding": {"x": {"field": "bx1", "type": "quantitative", "axis": null}, "x2": {"field": "bx2"}, "y": {"field": "by1", "type": "quantitative", "axis": null}, "y2": {"field": "by2"}}},
                        {"mark": {"type": "text", "fontSize": 20, "color": "#333333"},
                         "encoding": {"x": {"field": "lx", "type": "quantitative", "axis": null}, "y": {"field": "ly", "type": "quantitative", "axis": null}, "text": {"field": "label"}}}
                      ]
                    }
                  ]
                }
              ]
            }
          ]
        }
      ]
    }
  ]
}
